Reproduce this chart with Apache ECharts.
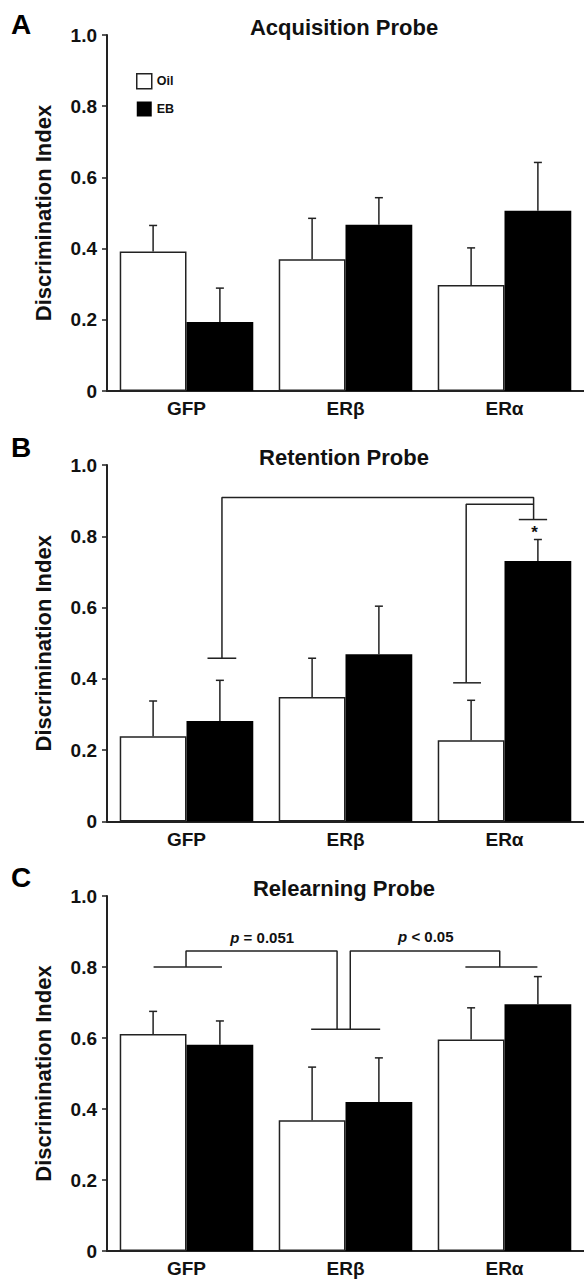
<!DOCTYPE html>
<html>
<head>
<meta charset="utf-8">
<title>Discrimination Index</title>
<script src="https://cdn.jsdelivr.net/npm/echarts@6/dist/echarts.min.js"></script>
<style>
  html, body { margin: 0; padding: 0; background: #fff; }
  #chart { width: 584px; height: 1279px; }
</style>
</head>
<body>
<div id="chart"></div>
<script>
var categories = ['GFP', 'ERβ', 'ERα'];
var yTickLabels = ['0', '0.2', '0.4', '0.6', '0.8', '1.0'];
var panelLetters = ['A', 'B', 'C'];
var panelTitles = ['Acquisition Probe', 'Retention Probe', 'Relearning Probe'];

// means and SEM
var acqOil = [0.392, 0.370, 0.298];
var acqOilSem = [0.073, 0.115, 0.104];
var acqEB = [0.194, 0.467, 0.506];
var acqEBSem = [0.095, 0.076, 0.136];

var retOil = [0.239, 0.349, 0.228];
var retOilSem = [0.099, 0.109, 0.112];
var retEB = [0.282, 0.469, 0.731];
var retEBSem = [0.114, 0.135, 0.060];

var relOil = [0.611, 0.368, 0.596];
var relOilSem = [0.064, 0.150, 0.089];
var relEB = [0.581, 0.420, 0.695];
var relEBSem = [0.067, 0.124, 0.078];

// significance brackets: x in category units (0..3), y in index units
var acqBrackets = [];
var retBrackets = [
  [[0.632, 0.458], [0.813, 0.458]],
  [[0.723, 0.458], [0.723, 0.909], [2.683, 0.909], [2.683, 0.847]],
  [[2.177, 0.389], [2.352, 0.389]],
  [[2.259, 0.389], [2.259, 0.890], [2.683, 0.890]],
  [[2.590, 0.847], [2.768, 0.847]]
];
var relBrackets = [
  [[0.293, 0.800], [0.723, 0.800]],
  [[0.497, 0.800], [0.497, 0.845], [1.447, 0.845], [1.447, 0.625]],
  [[1.284, 0.625], [1.718, 0.625]],
  [[1.530, 0.625], [1.530, 0.845], [2.470, 0.845], [2.470, 0.800]],
  [[2.254, 0.800], [2.707, 0.800]]
];
var acqNotes = [];
var retNotes = [[2.689, 0.810, '*']];
var relNotes = [[0.976, 0.883, '{i|p} = 0.051'], [2.005, 0.885, '{i|p} < 0.05']];

var Figure = {
  font: "'Liberation Sans', Arial, Helvetica, sans-serif",
  ink: '#222',
  text: '#111',
  gridLeft: 107,
  gridWidth: 479.5,
  gridTops: [35, 465, 896],
  gridHeights: [356, 356.5, 355],
  letterY: [24, 447.5, 877.5],
  titleX: 344,
  barShare: 0.42,

  init: function () {
    var myChart = echarts.init(document.getElementById('chart'), null, { renderer: 'svg' });
    myChart.setOption(Figure.buildOption(), true);
    window.addEventListener('resize', function () {
      myChart.resize();
    });
  },

  renderErrorBar: function (params, api) {
    var band = api.size([1, 0])[0];
    var base = api.coord([api.value(0), api.value(1)]);
    var top = api.coord([api.value(0), api.value(1) + api.value(2)]);
    var x = base[0] + api.value(3) * band * Figure.barShare / 2;
    var style = { stroke: Figure.ink, lineWidth: 1.5 };
    return {
      type: 'group',
      children: [
        { type: 'line', shape: { x1: x, y1: base[1], x2: x, y2: top[1] }, style: style },
        { type: 'line', shape: { x1: x - 4, y1: top[1], x2: x + 4, y2: top[1] }, style: style }
      ]
    };
  },

  buildOption: function () {
    var panels = [
      { oil: acqOil, oilSem: acqOilSem, eb: acqEB, ebSem: acqEBSem, brackets: acqBrackets, notes: acqNotes },
      { oil: retOil, oilSem: retOilSem, eb: retEB, ebSem: retEBSem, brackets: retBrackets, notes: retNotes },
      { oil: relOil, oilSem: relOilSem, eb: relEB, ebSem: relEBSem, brackets: relBrackets, notes: relNotes }
    ];
    var ink = Figure.ink;
    var option = {
      animation: false,
      backgroundColor: '#fff',
      textStyle: { fontFamily: Figure.font },
      legend: {
        left: 131,
        top: 68,
        orient: 'vertical',
        icon: 'rect',
        itemWidth: 15,
        itemHeight: 15,
        itemGap: 12,
        selectedMode: false,
        data: [
          { name: 'Oil', itemStyle: { color: '#fff', borderColor: ink, borderWidth: 1.5 } },
          { name: 'EB', itemStyle: { color: '#000' } }
        ],
        textStyle: { fontSize: 12.5, fontWeight: 'bold', color: Figure.text }
      },
      grid: [],
      xAxis: [],
      yAxis: [],
      series: [],
      graphic: []
    };

    panels.forEach(function (p, i) {
      option.grid.push({
        left: Figure.gridLeft,
        width: Figure.gridWidth,
        top: Figure.gridTops[i],
        height: Figure.gridHeights[i]
      });
      option.xAxis.push({
        type: 'category',
        gridIndex: i,
        data: categories,
        axisLine: { lineStyle: { color: ink, width: 2 } },
        axisTick: { length: 6, lineStyle: { color: ink, width: 1.5 } },
        axisLabel: { color: Figure.text, fontSize: 19, fontWeight: 'bold', margin: 8 }
      });
      option.xAxis.push({ type: 'value', gridIndex: i, min: 0, max: 3, show: false });
      option.yAxis.push({
        type: 'value',
        gridIndex: i,
        min: 0,
        max: 1,
        interval: 0.2,
        name: 'Discrimination Index',
        nameLocation: 'middle',
        nameGap: 53,
        nameTextStyle: { fontSize: 22, fontWeight: 'bold', color: Figure.text },
        axisLine: { show: true, lineStyle: { color: ink, width: 2 } },
        axisTick: { show: true, length: 5, lineStyle: { color: ink, width: 1.5 } },
        splitLine: { show: false },
        axisLabel: {
          margin: 10,
          fontSize: 19,
          fontWeight: 'bold',
          color: Figure.text,
          formatter: function (v) {
            return yTickLabels[Math.round(v / 0.2)];
          }
        }
      });

      option.series.push({
        name: 'Oil',
        type: 'bar',
        xAxisIndex: 2 * i,
        yAxisIndex: i,
        data: p.oil,
        barWidth: '42%',
        barGap: '0%',
        itemStyle: { color: '#fff', borderColor: ink, borderWidth: 1.5 },
        z: 2
      });
      option.series.push({
        name: 'EB',
        type: 'bar',
        xAxisIndex: 2 * i,
        yAxisIndex: i,
        data: p.eb,
        barWidth: '42%',
        barGap: '0%',
        itemStyle: { color: '#000' },
        z: 2
      });

      // error bars (upper half only)
      var errData = p.oil.map(function (v, k) { return [k, v, p.oilSem[k], -1]; })
        .concat(p.eb.map(function (v, k) { return [k, v, p.ebSem[k], 1]; }));
      option.series.push({
        type: 'custom',
        xAxisIndex: 2 * i,
        yAxisIndex: i,
        data: errData,
        encode: { x: 0, y: 1 },
        renderItem: Figure.renderErrorBar,
        silent: true,
        z: 5
      });

      p.brackets.forEach(function (path) {
        option.series.push({
          type: 'line',
          xAxisIndex: 2 * i + 1,
          yAxisIndex: i,
          data: path,
          symbol: 'none',
          silent: true,
          lineStyle: { color: ink, width: 1.5 },
          z: 4
        });
      });

      if (p.notes.length) {
        option.series.push({
          type: 'custom',
          xAxisIndex: 2 * i + 1,
          yAxisIndex: i,
          data: p.notes.map(function (n, k) { return [n[0], n[1], k]; }),
          encode: { x: 0, y: 1 },
          silent: true,
          z: 6,
          renderItem: function (params, api) {
            var pt = api.coord([api.value(0), api.value(1)]);
            var txt = p.notes[api.value(2)][2];
            return {
              type: 'text',
              x: pt[0],
              y: pt[1],
              style: {
                text: txt,
                fill: Figure.text,
                fontSize: txt === '*' ? 17 : 15,
                fontWeight: 'bold',
                fontFamily: Figure.font,
                align: 'center',
                verticalAlign: 'middle',
                textAlign: 'center',
                textVerticalAlign: 'middle',
                rich: {
                  i: { fontStyle: 'italic', fontWeight: 'bold', fontSize: 15, fontFamily: Figure.font, fill: Figure.text }
                }
              }
            };
          }
        });
      }

      option.graphic.push({
        type: 'text',
        x: 11,
        y: Figure.letterY[i],
        style: {
          text: panelLetters[i],
          font: 'bold 28px ' + Figure.font,
          fill: '#000',
          textAlign: 'left',
          textVerticalAlign: 'middle'
        }
      });
      option.graphic.push({
        type: 'text',
        x: Figure.titleX,
        y: Figure.gridTops[i] - 7.5,
        style: {
          text: panelTitles[i],
          font: 'bold 22px ' + Figure.font,
          fill: Figure.text,
          textAlign: 'center',
          textVerticalAlign: 'middle'
        }
      });
    });
    return option;
  }
};

Figure.init();
</script>
</body>
</html>
